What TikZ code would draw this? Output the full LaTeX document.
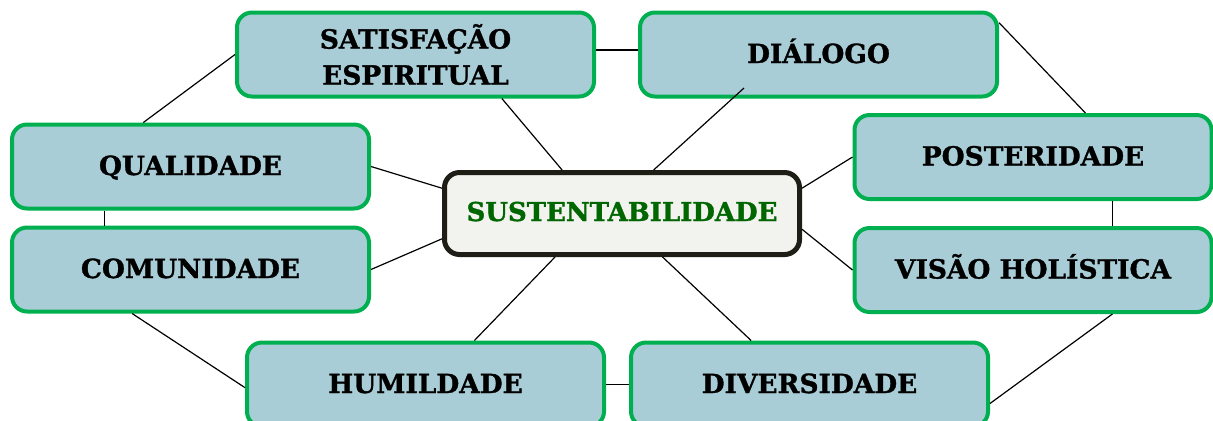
\documentclass[tikz,border=0pt]{standalone}
\usepackage{fontspec}
\setmainfont{DejaVu Serif}[BoldFeatures={FakeBold=1.2}]
\usetikzlibrary{shapes,
                positioning}
\definecolor{topicgreen}{HTML}{00B050}
\definecolor{topicblue}{HTML}{A9CDD7}
\definecolor{corefill}{HTML}{F2F2EE}
\definecolor{coreline}{HTML}{1E1E16}
\definecolor{coretext}{HTML}{006600}
\tikzset{topic/.style=
   {rectangle,
    draw=topicgreen,
    fill=topicblue,
    line width=2pt,
    rounded corners=7.5pt,
    text centered,
    text height=0.85em,
    text depth=0pt,
    minimum width=178.5pt,
    minimum height=42pt,
    font=\bfseries\fontsize{13.2}{18}\selectfont}}
\tikzset{core/.style=
   {rectangle,
    draw=coreline,
    fill=corefill,
    line width=2.5pt,
    rounded corners=7.5pt,
    text=coretext,
    text centered,
    text height=0.75em,
    text depth=0pt,
    minimum width=177.5pt,
    minimum height=41pt,
    font=\bfseries\fontsize{13}{16}\selectfont}}
\tikzset{link/.style = {draw, line width=0.6pt}}

\begin{document}
\begin{tikzpicture}[x=0.5pt, y=-0.5pt]

    \useasboundingbox (0,0) rectangle (1213,420);

    \node [core] (sus) at (622,213.5) {SUSTENTABILIDADE};

    \node [topic,
           align=center,
           text height={},
           text depth={}] (sat) at (415.5,54.5) {SATISFAÇÃO\\ESPIRITUAL};
    \node [topic] (dia) at (818.5,54.5) {DIÁLOGO};
    \node [topic] (qual) at (190.5,166.5) {QUALIDADE};
    \node [topic] (com) at (190.5,269.5) {COMUNIDADE};
    \node [topic] (post) at (1033,157) {POSTERIDADE};
    \node [topic] (vis) at (1033,270) {VISÃO HOLÍSTICA};
    \node [topic] (hum) at (425.5,384.5) {HUMILDADE};
    \node [topic] (div) at (809.5,384.5) {DIVERSIDADE};

    \coordinate (diafoot) at (744,88);

    % ring
    \path [link] (sat.west) -- (qual.137);
    \path [link] ([yshift=2.25pt]sat.east) -- ([yshift=2.25pt]dia.west);
    \path [link] (dia.10) -- (post.40);
    \path [link] (qual.207.8) -- (qual.207.8 |- com.north);
    \path [link] (com.217) -- (hum.181);
    \path [link] (hum.east) -- (div.west);
    \path [link] (div.-6.5) -- (vis.-29);
    \path [link] (post.-29.7) -- (post.-29.7 |- vis.north);

    % spokes
    \path [link] (sat.-27) -- (sus.144);
    \path [link] (diafoot) -- (sus.54);
    \path [link] (qual.east) -- (sus.172);
    \path [link] (com.east) -- (sus.188);
    \path [link] (hum.42) -- (sus.213);
    \path [link] (div.143) -- (sus.-47);
    \path [link] (post.west) -- (sus.8);
    \path [link] (vis.west) -- (sus.-5);

\end{tikzpicture}
\end{document}
